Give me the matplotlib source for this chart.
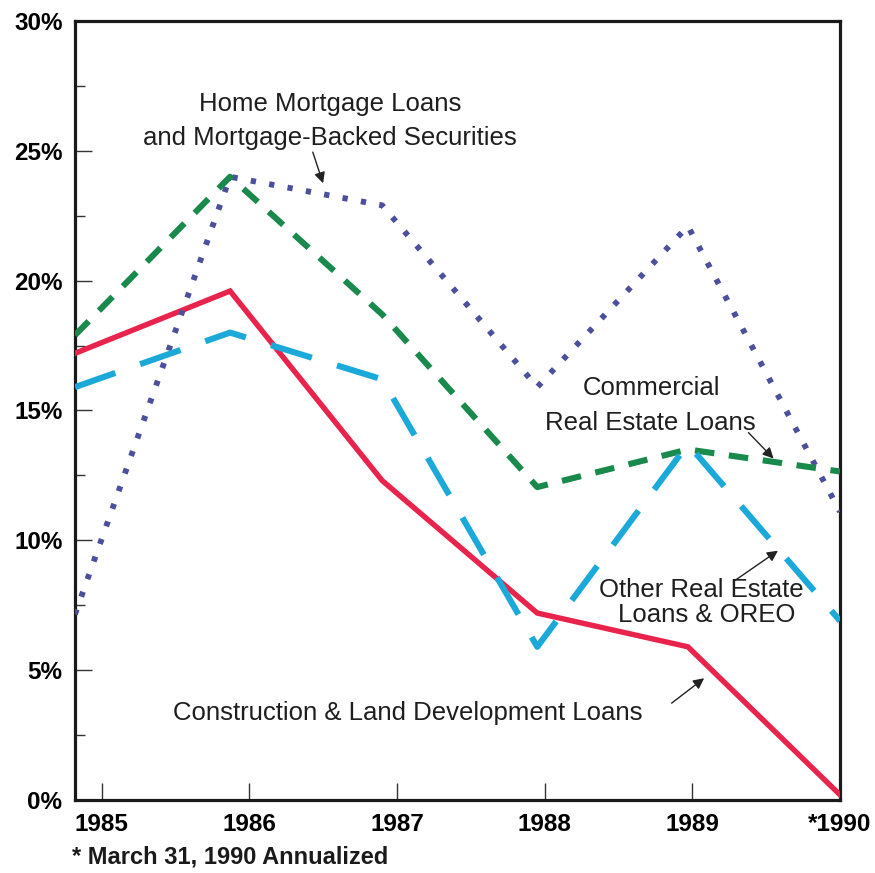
import matplotlib
matplotlib.use("Agg")
import matplotlib.pyplot as plt
from matplotlib.ticker import MultipleLocator, FuncFormatter

plt.rcParams['font.family'] = ['Liberation Sans', 'DejaVu Sans']

# data (percent), points sit just left of the year ticks
years = [1984.82, 1985.87, 1986.9, 1987.95, 1988.97, 1990.0]
construction = [17.2, 19.6, 12.3, 7.2, 5.9, 0.2]
commercial = [17.9, 24.0, 18.7, 12.05, 13.5, 12.65]
home_mortgage = [7.15, 24.0, 22.9, 15.9, 22.1, 11.1]
other_re = [15.9, 18.0, 16.2, 5.9, 13.7, 6.9]

tick_years = [1985, 1986, 1987, 1988, 1989, 1990]
tick_labels = ['1985', '1986', '1987', '1988', '1989', '*1990']

fig = plt.figure(figsize=(8.75, 8.73), dpi=100)
ax = fig.add_axes([0.0857, 0.0836, 0.8743, 0.8924])

ax.plot(years, construction, color='#e8234c', lw=3.9, solid_joinstyle='miter', zorder=3)
ax.plot(years, home_mortgage, color='#4b4f9c', lw=4.2, dashes=(0.9, 2.3), zorder=4)
ax.plot(years, commercial, color='#1a8a4c', lw=4.4, dashes=(3.2, 2.4), zorder=5)
ax.plot(years, other_re, color='#1ba9da', lw=4.4, dashes=(7.0, 4.3), zorder=6)

ax.set_xlim(years[0], years[-1])
ax.set_ylim(0, 30)
ax.set_xticks(tick_years)
ax.set_xticklabels(tick_labels)
ax.yaxis.set_major_locator(MultipleLocator(5))
ax.yaxis.set_minor_locator(MultipleLocator(2.5))
ax.yaxis.set_major_formatter(FuncFormatter(lambda v, p: '%d%%' % v))

ax.tick_params(axis='both', which='major', direction='in', length=12, width=1.0,
               labelsize=17.5, pad=9, color='#333333')
ax.tick_params(axis='y', which='minor', direction='in', length=7, width=1.0, color='#333333')
for lab in ax.get_xticklabels() + ax.get_yticklabels():
    lab.set_fontweight('bold')

for sp in ax.spines.values():
    sp.set_linewidth(2.3)
    sp.set_color('#1a1a1a')

arrow = dict(arrowstyle='-|>', lw=1.0, color='#222222', mutation_scale=16, shrinkA=0, shrinkB=0)
txt = dict(fontsize=18.5, color='#1e1e1e', ha='center', va='center')

ax.text(1986.546, 26.81, 'Home Mortgage Loans', **txt)
ax.text(1986.546, 25.5, 'and Mortgage-Backed Securities', **txt)
ax.annotate('', xy=(1986.5, 23.75), xytext=(1986.43, 24.95), arrowprops=arrow)

ax.text(1988.727, 15.85, 'Commercial', **txt)
ax.text(1988.714, 14.5, 'Real Estate Loans', **txt)
ax.annotate('', xy=(1989.55, 13.15), xytext=(1989.38, 14.15), arrowprops=arrow)

ax.text(1989.058, 8.08, 'Other Real Estate', **txt)
ax.text(1989.099, 7.12, 'Loans & OREO', **txt)
ax.annotate('', xy=(1989.58, 9.6), xytext=(1989.29, 8.46), arrowprops=arrow)

ax.text(1987.07, 3.35, 'Construction & Land Development Loans', **txt)
ax.annotate('', xy=(1989.08, 4.69), xytext=(1988.86, 3.73), arrowprops=arrow)

fig.text(0.082, 0.018, '* March 31, 1990 Annualized', fontsize=17, fontweight='bold',
         ha='left', va='center', color='#1a1a1a')

fig.savefig('out.png', dpi=100)
